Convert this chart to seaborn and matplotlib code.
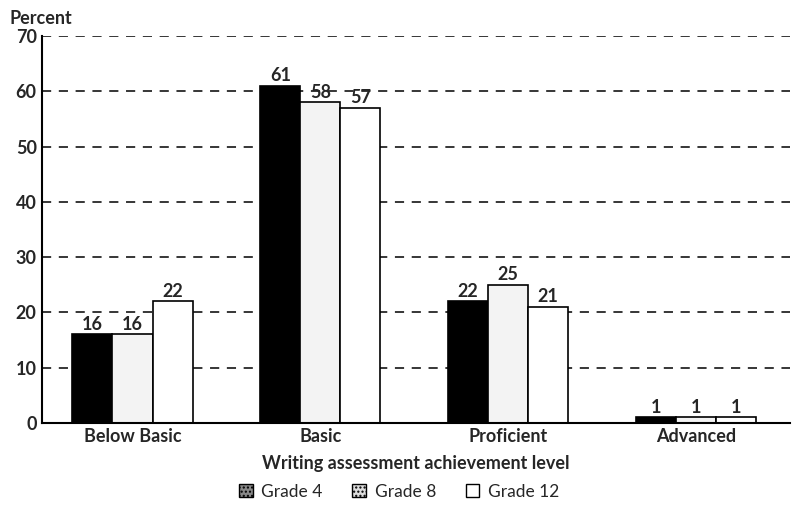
import pandas as pd
import matplotlib
matplotlib.use("Agg")
import matplotlib.pyplot as plt
import seaborn as sns

# Data
levels = ["Below Basic", "Basic", "Proficient", "Advanced"]
grades = ["Grade 4", "Grade 8", "Grade 12"]
grade4 = [16, 61, 22, 1]
grade8 = [16, 58, 25, 1]
grade12 = [22, 57, 21, 1]

df = pd.DataFrame({
    "level": levels * 3,
    "grade": [g for g in grades for _ in levels],
    "percent": grade4 + grade8 + grade12,
})

sns.set_theme(style="white")
plt.rcParams["font.family"] = ["Lato", "DejaVu Sans"]

fig = plt.figure(figsize=(7.98, 5.07), dpi=100)
ax = fig.add_axes([0.053, 0.166, 0.937, 0.763])

palette = {"Grade 4": "black", "Grade 8": "#f3f3f3", "Grade 12": "white"}
sns.barplot(data=df, x="level", y="percent", hue="grade", order=levels,
            hue_order=grades, palette=palette, width=0.64,
            edgecolor="black", linewidth=1.2, saturation=1, ax=ax, legend=False)

# value labels
for cont in ax.containers:
    ax.bar_label(cont, fmt="%d", padding=1, fontsize=13, fontweight="bold")

ax.set_ylim(0, 70)
ax.set_xlim(-0.48, 3.5)
ax.set_yticks(range(0, 71, 10))
ax.yaxis.grid(True, linestyle=(0, (6, 5)), color="black", linewidth=1.1)
ax.set_axisbelow(True)
for s in ["top", "right"]:
    ax.spines[s].set_visible(False)
ax.spines["left"].set_color("black")
ax.spines["bottom"].set_color("black")
ax.spines["left"].set_linewidth(1.5)
ax.spines["bottom"].set_linewidth(1.5)
ax.tick_params(axis="both", labelsize=13, length=0, pad=4)
for lab in ax.get_xticklabels() + ax.get_yticklabels():
    lab.set_fontweight("bold")

ax.set_ylabel("")
ax.set_xlabel("Writing assessment achievement level", fontsize=13,
              fontweight="bold", labelpad=7)
fig.text(0.012, 0.953, "Percent", fontsize=13, fontweight="bold")

# legend below
handles = [plt.Rectangle((0, 0), 1, 1, facecolor="#888888", edgecolor="black", hatch="...."),
           plt.Rectangle((0, 0), 1, 1, facecolor="#dddddd", edgecolor="black", hatch="...."),
           plt.Rectangle((0, 0), 1, 1, facecolor="white", edgecolor="black")]
fig.legend(handles, grades, loc="center", bbox_to_anchor=(0.5, 0.03), ncol=3,
           frameon=False, fontsize=12.5, handlelength=0.8, handleheight=0.8,
           columnspacing=1.7, handletextpad=0.5)

fig.savefig("out.png", dpi=100)
